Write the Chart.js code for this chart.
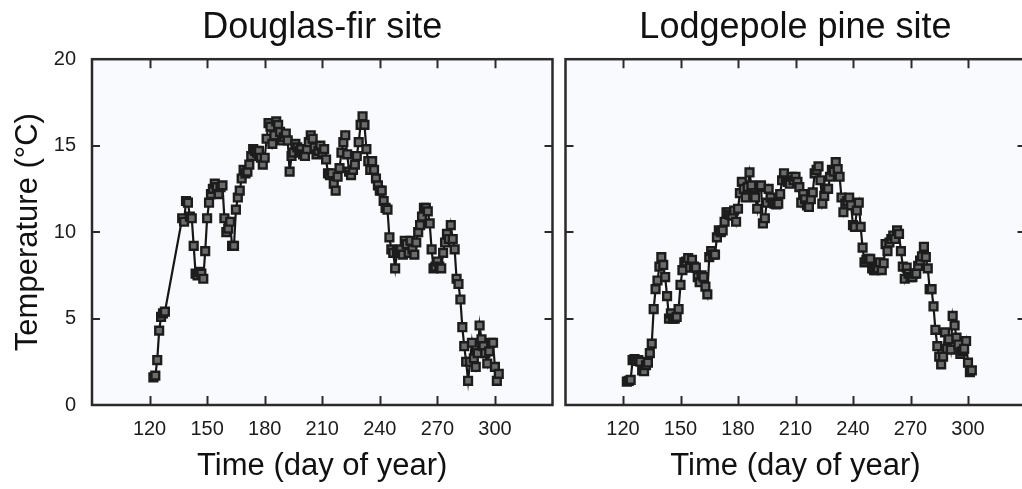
<!DOCTYPE html>
<html>
<head>
<meta charset="utf-8">
<script src="https://cdn.jsdelivr.net/npm/chart.js@4"></script>
<style>
  html, body { margin: 0; padding: 0; background: #fff; overflow: hidden; width: 1022px; height: 489px; }
  canvas { position: absolute; top: 0; }
  #left-chart { left: 0; }
  #right-chart { left: 560px; }
</style>
</head>
<body>
<canvas id="left-chart" width="560" height="489"></canvas>
<canvas id="right-chart" width="470" height="489"></canvas>
<script>
// Douglas-fir site: day of year and mean temperature (°C)
const dfDays = [
  122, 123, 124, 125, 126, 127, 128,
  137, 138, 139, 140, 141, 142, 143, 144, 145, 146,
  147, 148, 149, 150, 151, 152, 153, 154, 155, 156,
  157, 158, 159, 160, 161, 162, 163, 164, 165, 166,
  167, 168, 169, 170, 171, 172, 173, 174, 175, 176,
  177, 178, 179, 180, 181, 182, 183, 184, 185, 186,
  187, 188, 189, 190, 191, 192, 193, 194, 195, 196,
  197, 198, 199, 200, 201, 202, 203, 204, 205, 206,
  207, 208, 209, 210, 211, 212, 213, 214, 215, 216,
  217, 218, 219, 220, 221, 222, 223, 224, 225, 226,
  227, 228, 229, 230, 231, 232, 233, 234, 235, 236,
  237, 238, 239, 240, 241, 242, 243, 244, 245, 246,
  247, 248, 249, 250, 251, 252, 253, 254, 255, 256,
  257, 258, 259, 260, 261, 262, 263, 264, 265, 266,
  267, 268, 269, 270, 271, 272, 273, 274, 275, 276,
  277, 278, 279, 280, 281, 282, 283, 284, 285, 286,
  287, 288, 289, 290, 291, 292, 293, 294, 295, 296,
  297, 298, 299, 300, 301, 302
];
const dfTemp = [
  1.6, 1.7, 2.6, 4.3, 5.1, 5.3, 5.4,
  10.8, 10.6, 11.8, 11.7, 10.9, 10.8, 9.2, 7.6, 7.5, 7.7,
  7.6, 7.3, 8.9, 10.8, 11.7, 12.2, 12.5, 12.8, 12.6, 12.2,
  12.6, 12.7, 10.8, 10.0, 10.2, 10.6, 9.2, 9.2, 11.3, 12.0,
  12.4, 13.1, 13.6, 13.4, 13.5, 13.9, 14.4, 14.8, 14.7, 14.6,
  14.7, 14.3, 13.9, 14.3, 15.4, 16.3, 16.1, 15.1, 15.6, 16.4,
  16.2, 15.8, 15.3, 15.5, 15.7, 15.3, 13.5, 14.4, 14.6, 15.1,
  14.9, 14.7, 14.8, 14.5, 14.4, 14.8, 15.2, 15.6, 15.4, 14.9,
  14.5, 14.7, 15.0, 14.6, 14.8, 14.2, 13.4, 13.3, 13.4, 12.8,
  12.4, 13.2, 13.7, 14.6, 15.2, 15.6, 14.5, 13.5, 13.3, 13.6,
  13.9, 14.4, 15.2, 16.2, 16.7, 16.2, 14.8, 14.1, 13.6, 14.1,
  13.6, 13.1, 12.7, 12.4, 12.4, 11.8, 11.4, 11.3, 9.7, 9.0,
  8.8, 7.9, 8.9, 8.9, 9.0, 8.7, 9.5, 9.3, 8.8, 9.5,
  9.0, 8.7, 9.4, 10.0, 10.4, 10.9, 11.4, 11.4, 11.2, 10.5,
  9.0, 7.9, 8.0, 8.3, 8.0, 7.9, 8.8, 9.4, 9.9, 9.6,
  10.4, 9.6, 9.0, 7.3, 7.0, 6.1, 4.5, 3.4, 2.5, 1.4,
  2.5, 3.6, 2.7, 2.2, 3.0, 4.6, 3.8, 3.4, 3.0, 2.4,
  3.1, 3.6, 3.6, 2.2, 1.4, 1.8
];

// Lodgepole pine site
const lpDays = [
  122, 123, 124, 125, 126, 127, 128, 129, 130, 131,
  132, 133, 134, 135, 136, 137, 138, 139, 140, 141,
  142, 143, 144, 145, 146, 147, 148, 149, 150, 151,
  152, 153, 154, 155, 156, 157, 158, 159, 160, 161,
  162, 163, 164, 165, 166, 167, 168, 169, 170, 171,
  172, 173, 174, 175, 176, 177, 178, 179, 180, 181,
  182, 183, 184, 185, 186, 187, 188, 189, 190, 191,
  192, 193, 194, 195, 196, 197, 198, 199, 200, 201,
  202, 203, 204, 205, 206, 207, 208, 209, 210, 211,
  212, 213, 214, 215, 216, 217, 218, 219, 220, 221,
  222, 223, 224, 225, 226, 227, 228, 229, 230, 231,
  232, 233, 234, 235, 236, 237, 238, 239, 240, 241,
  242, 243, 244, 245, 246, 247, 248, 249, 250, 251,
  252, 253, 254, 255, 256, 257, 258, 259, 260, 261,
  262, 263, 264, 265, 266, 267, 268, 269, 270, 271,
  272, 273, 274, 275, 276, 277, 278, 279, 280, 281,
  282, 283, 284, 285, 286, 287, 288, 289, 290, 291,
  292, 293, 294, 295, 296, 297, 298, 299, 300, 301,
  302
];
const lpTemp = [
  1.35, 1.4, 1.45, 2.6, 2.65, 2.55, 2.6, 2.5, 2.0, 1.95,
  2.3, 2.45, 3.0, 3.55, 5.55, 6.7, 7.2, 8.0, 8.55, 8.1,
  7.4, 6.3, 5.0, 5.3, 5.0, 5.0, 5.1, 5.55, 6.95, 7.8,
  8.25, 8.3, 8.5, 7.95, 8.4, 8.0, 7.95, 7.4, 7.1, 7.5,
  7.4, 6.85, 6.4, 8.55, 8.9, 8.7, 8.7, 9.7, 10.1, 10.0,
  10.1, 10.6, 11.15, 11.15, 11.0, 10.95, 11.25, 10.6, 11.35, 12.25,
  12.9, 12.5, 12.0, 12.6, 13.45, 12.7, 12.1, 12.0, 11.35, 12.6,
  12.7, 10.5, 10.8, 11.7, 12.5, 12.0, 11.7, 11.65, 11.6, 11.65,
  12.2, 13.0, 13.4, 13.0, 12.9, 12.8, 13.2, 13.0, 13.2, 12.9,
  12.6, 11.7, 12.2, 11.9, 11.55, 11.45, 11.9, 12.3, 13.4, 13.6,
  13.8, 13.0, 11.65, 12.1, 12.5, 12.5, 13.2, 13.6, 13.5, 14.05,
  13.65, 13.2, 12.0, 11.15, 11.65, 11.8, 12.0, 11.55, 10.4, 10.3,
  11.25, 11.7, 10.3, 9.1, 8.25, 8.4, 8.45, 8.45, 7.9, 7.8,
  7.8, 7.9, 8.25, 7.8, 8.2, 9.3, 8.9, 9.4, 9.6, 9.8,
  9.6, 10.1, 9.9, 8.9, 8.0, 7.3, 7.95, 7.6, 7.4, 7.4,
  7.6, 7.6, 8.05, 8.35, 8.6, 9.15, 8.55, 7.9, 6.7, 6.7,
  5.7, 4.35, 3.4, 2.8, 2.35, 2.8, 4.2, 3.25, 3.8, 3.2,
  5.15, 4.6, 3.9, 3.5, 2.95, 3.1, 3.25, 3.7, 2.45, 1.9,
  2.0
];

// Axis ticks
const xTickValues = [120, 150, 180, 210, 240, 270, 300];
const yTickValues = [5, 10, 15];

const FONT = "'Liberation Sans', Arial, Helvetica, sans-serif";
const INK = '#1c1c1c';

// Plot background, box frame and inward tick marks
const framePlugin = {
    id: 'frame',
    beforeDraw(chart) {
        const { ctx, chartArea: a } = chart;
        ctx.save();
        ctx.fillStyle = '#f8fafd';
        ctx.fillRect(a.left, a.top, a.right - a.left, a.bottom - a.top);
        ctx.restore();
    },
    afterDraw(chart) {
        const { ctx, chartArea: a, scales: { x, y } } = chart;
        ctx.save();
        ctx.strokeStyle = '#2a2a2a';
        ctx.lineWidth = 2;
        ctx.beginPath();
        xTickValues.forEach(v => {
            const px = Math.round(x.getPixelForValue(v)) + 0.5;
            ctx.moveTo(px, a.bottom); ctx.lineTo(px, a.bottom - 9);
            ctx.moveTo(px, a.top); ctx.lineTo(px, a.top + 9);
        });
        yTickValues.forEach(v => {
            const py = Math.round(y.getPixelForValue(v));
            ctx.moveTo(a.left, py); ctx.lineTo(a.left + 8, py);
            ctx.moveTo(a.right, py); ctx.lineTo(a.right - 8, py);
        });
        ctx.stroke();
        ctx.lineWidth = 2.5;
        ctx.strokeRect(a.left, a.top, a.right - a.left, a.bottom - a.top);
        ctx.restore();
    }
};

function toPoints(days, temps) {
    return days.map((d, i) => ({ x: d, y: temps[i] }));
}

function makeChart(canvasId, title, days, temps, isLeft) {
    const ctx = document.getElementById(canvasId);
    return new Chart(ctx, {
        type: 'line',
        data: {
            datasets: [{
                data: toPoints(days, temps),
                borderColor: '#161616',
                borderWidth: 2.2,
                pointStyle: 'rect',
                pointRadius: 5.5,
                pointBorderWidth: 2.4,
                pointBorderColor: '#1c1c1c',
                pointBackgroundColor: '#6c6c6c',
                tension: 0,
                fill: false
            }]
        },
        options: {
            responsive: false,
            animation: false,
            events: [],
            layout: {
                autoPadding: false,
                padding: { left: 0, right: isLeft ? 7.5 : 4.5, top: 0, bottom: 0 }
            },
            plugins: {
                legend: { display: false },
                tooltip: { enabled: false },
                title: {
                    display: true,
                    text: title,
                    fullSize: false,
                    color: '#111',
                    font: { family: FONT, size: 36, weight: 'normal' },
                    padding: { top: 6.5, bottom: 9.5 }
                }
            },
            scales: {
                x: {
                    type: 'linear',
                    min: 90,
                    max: 330,
                    // tick marks are drawn inward by the frame plugin; tickLength only offsets labels
                    grid: { display: false, drawTicks: true, tickLength: 12 },
                    border: { display: false },
                    ticks: {
                        stepSize: 30,
                        autoSkip: false,
                        maxRotation: 0,
                        padding: 0,
                        color: INK,
                        font: { family: FONT, size: 20 },
                        callback: v => (xTickValues.includes(v) ? String(v) : '')
                    },
                    title: {
                        display: true,
                        text: 'Time (day of year)',
                        color: '#111',
                        font: { family: FONT, size: 31 },
                        padding: { top: 0, bottom: 4 }
                    },
                    afterFit(scale) { scale.height = 84; }
                },
                y: {
                    min: 0,
                    max: 20,
                    grid: { display: false, drawTicks: false },
                    border: { display: false },
                    ticks: {
                        display: isLeft,
                        stepSize: 5,
                        padding: 16,
                        color: INK,
                        font: { family: FONT, size: 20 }
                    },
                    title: {
                        display: isLeft,
                        text: 'Temperature (°C)',
                        color: '#111',
                        font: { family: FONT, size: 31 },
                        padding: { top: 10, bottom: 0 }
                    },
                    afterFit(scale) { scale.width = isLeft ? 92 : 5.5; }
                }
            }
        },
        plugins: [framePlugin]
    });
}

makeChart('left-chart', 'Douglas-fir site', dfDays, dfTemp, true);
makeChart('right-chart', 'Lodgepole pine site', lpDays, lpTemp, false);
</script>
</body>
</html>
